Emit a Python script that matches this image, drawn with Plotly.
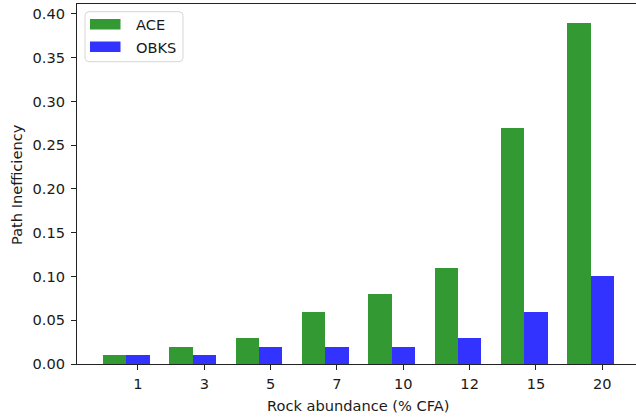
import plotly.graph_objects as go

# Rock abundance levels (% CFA) and path inefficiency per planner
abundance = ["1", "3", "5", "7", "10", "12", "15", "20"]
ace = [0.01, 0.02, 0.03, 0.06, 0.08, 0.11, 0.27, 0.39]
obks = [0.01, 0.01, 0.02, 0.02, 0.02, 0.03, 0.06, 0.10]
y_ticks = [0.00, 0.05, 0.10, 0.15, 0.20, 0.25, 0.30, 0.35, 0.40]

BAR_W = 0.35
GREEN = "rgb(51,153,51)"
BLUE = "rgb(51,51,255)"
FONT = "DejaVu Sans"
FS = 14.6
TXT = "#1a1a1a"

index = list(range(len(abundance)))
ace_x = index
obks_x = [i + BAR_W for i in index]

W, H = 636, 420
ML, MR, MT, MB = 77, 0, 4, 56
PW, PH = W - ML - MR, H - MT - MB


def px(x):
    return (x - ML) / PW


def py(y):
    return (MT + PH - y) / PH


fig = go.Figure()
fig.add_trace(go.Bar(x=ace_x, y=ace, width=BAR_W, name="ACE",
                     marker=dict(color=GREEN, line=dict(width=0)),
                     showlegend=False))
fig.add_trace(go.Bar(x=obks_x, y=obks, width=BAR_W, name="OBKS",
                     marker=dict(color=BLUE, line=dict(width=0)),
                     showlegend=False))

# legend drawn as a rounded box with colour patches
x0, x1, y0, y1, r = px(85), px(183), py(11.7), py(61.7), 4
rx, ry = r / PW, r / PH
path = (f"M {x0+rx},{y0} L {x1-rx},{y0} Q {x1},{y0} {x1},{y0-ry} "
        f"L {x1},{y1+ry} Q {x1},{y1} {x1-rx},{y1} L {x0+rx},{y1} "
        f"Q {x0},{y1} {x0},{y1+ry} L {x0},{y0-ry} Q {x0},{y0} {x0+rx},{y0} Z")
shapes = [dict(type="path", path=path, xref="paper", yref="paper",
               line=dict(color="rgb(214,214,214)", width=1),
               fillcolor="rgba(255,255,255,0.8)", layer="above")]
annotations = []
for name, col, top in [("ACE", GREEN, 19), ("OBKS", BLUE, 41.5)]:
    shapes.append(dict(type="rect", xref="paper", yref="paper",
                       x0=px(90), x1=px(120.5), y0=py(top), y1=py(top + 10.5),
                       fillcolor=col, line=dict(width=0), layer="above"))
    annotations.append(dict(text=name, xref="paper", yref="paper",
                            x=px(134), y=py(top + 5.5), xanchor="left",
                            yanchor="middle", showarrow=False,
                            font=dict(family=FONT, size=FS, color=TXT)))

# axis titles
annotations.append(dict(text="Rock abundance (% CFA)", xref="paper", yref="paper",
                        x=px(358), y=py(405), xanchor="center", yanchor="middle",
                        showarrow=False, font=dict(family=FONT, size=FS, color=TXT)))
annotations.append(dict(text="Path Inefficiency", xref="paper", yref="paper",
                        x=px(16), y=py(185), xanchor="center", yanchor="middle",
                        textangle=-90, showarrow=False,
                        font=dict(family=FONT, size=FS, color=TXT)))

fig.update_layout(
    width=W, height=H,
    margin=dict(l=ML, r=MR, t=MT, b=MB, pad=0),
    plot_bgcolor="white", paper_bgcolor="white",
    barmode="overlay", bargap=0,
    shapes=shapes, annotations=annotations,
    font=dict(family=FONT, size=FS, color=TXT),
    xaxis=dict(range=[-0.569, 7.858], tickvals=obks_x, ticktext=abundance,
               showgrid=False, zeroline=False, showline=True, mirror=True,
               linecolor="#222", linewidth=1.1, ticks="outside", ticklen=5,
               tickwidth=1.1, tickcolor="#222", automargin=False,
               ticklabelstandoff=1,
               tickfont=dict(family=FONT, size=FS, color=TXT)),
    yaxis=dict(range=[0, 0.4114], tickvals=y_ticks, tickformat=".2f",
               showgrid=False, zeroline=False, showline=True,
               linecolor="#222", linewidth=1.1, ticks="outside", ticklen=5,
               tickwidth=1.1, tickcolor="#222", automargin=False,
               ticklabelstandoff=3,
               tickfont=dict(family=FONT, size=FS, color=TXT)),
)

fig.write_html("out.html")
